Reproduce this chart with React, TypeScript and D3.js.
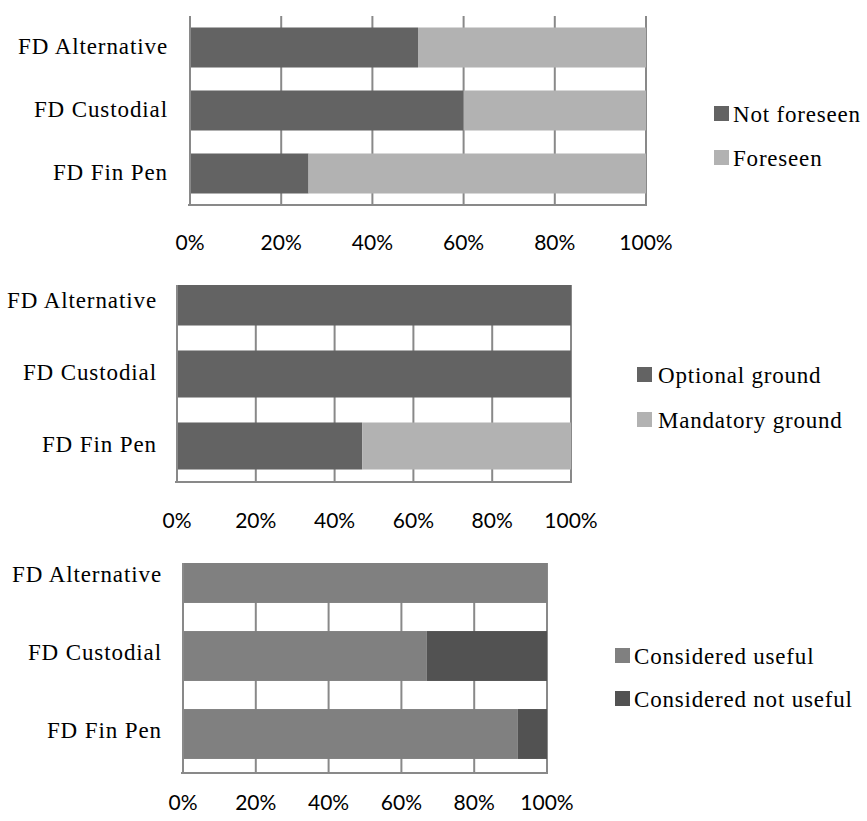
import React from "react";
import * as d3 from "d3";

const categories = ["FD Alternative", "FD Custodial", "FD Fin Pen"];
const tickValues = [0, 20, 40, 60, 80, 100];
const tickLabels = ["0%", "20%", "40%", "60%", "80%", "100%"];

const foreseenSeries = ["Not foreseen", "Foreseen"];
const notForeseen = [50, 60, 26];
const foreseen = [50, 40, 74];

const groundSeries = ["Optional ground", "Mandatory ground"];
const optionalGround = [100, 100, 47];
const mandatoryGround = [0, 0, 53];

const usefulSeries = ["Considered useful", "Considered not useful"];
const consideredUseful = [100, 67, 92];
const consideredNotUseful = [0, 33, 8];

const SERIF = "'Liberation Serif', serif";
const SANS = "Lato, 'Open Sans', sans-serif";
const GRID = "#898989";

type PanelProps = {
  id: string;
  names: string[];
  values: number[][];
  colors: string[];
  x0: number;
  x1: number;
  bandTop: number;
  bandBottom: number;
  clipTop: number;
  padding: number;
  tickY: number;
  labelX: number;
  labelDy: number;
  markerX: number;
  textX: number;
  legendBaselines: number[];
};

function Panel(p: PanelProps) {
  const x = d3.scaleLinear().domain([0, 100]).range([p.x0, p.x1]);
  const y = d3
    .scaleBand<string>()
    .domain(categories)
    .range([p.bandTop, p.bandBottom])
    .paddingInner(p.padding)
    .paddingOuter(p.padding / 2);
  const rows = categories.map((c, i) => {
    const r: Record<string, any> = { cat: c };
    p.names.forEach((n, k) => (r[n] = p.values[k][i]));
    return r;
  });
  const stacked = d3.stack<any>().keys(p.names)(rows);
  const axisY = p.bandBottom;
  const clipId = `clip-${p.id}`;
  return (
    <g>
      <defs>
        <clipPath id={clipId}>
          <rect x={p.x0} y={p.clipTop} width={p.x1 - p.x0 + 2} height={axisY - p.clipTop} />
        </clipPath>
      </defs>
      {tickValues.map((t) => (
        <line key={t} x1={x(t)} x2={x(t)} y1={p.clipTop} y2={axisY} stroke={GRID} strokeWidth={2} />
      ))}
      <g clipPath={`url(#${clipId})`}>
        {stacked.map((s, k) =>
          s.map((d, i) =>
            d[1] - d[0] > 0 ? (
              <rect
                key={`${k}-${i}`}
                x={x(d[0])}
                y={y(categories[i])}
                width={x(d[1]) - x(d[0])}
                height={y.bandwidth()}
                fill={p.colors[k]}
              />
            ) : null
          )
        )}
      </g>
      <line x1={p.x0} x2={p.x0} y1={p.clipTop} y2={axisY} stroke={GRID} strokeWidth={2} />
      <line x1={p.x0 - 2} x2={p.x1 + 1} y1={axisY} y2={axisY} stroke={GRID} strokeWidth={2} />
      {tickValues.map((t, i) => (
        <text key={t} x={x(t)} y={p.tickY} textAnchor="middle" fontFamily={SANS} fontSize={21} fill="#000">
          {tickLabels[i]}
        </text>
      ))}
      {categories.map((c) => (
        <text
          key={c}
          x={p.labelX}
          y={(y(c) as number) + y.bandwidth() / 2 + p.labelDy}
          textAnchor="end"
          fontFamily={SERIF}
          fontSize={23}
          letterSpacing={0.9}
          fill="#000"
        >
          {c}
        </text>
      ))}
      {p.names.map((n, k) => (
        <g key={n}>
          <rect x={p.markerX} y={p.legendBaselines[k] - 16} width={15} height={15} fill={p.colors[k]} />
          <text x={p.textX} y={p.legendBaselines[k]} fontFamily={SERIF} fontSize={23} letterSpacing={0.8} fill="#000">
            {n}
          </text>
        </g>
      ))}
    </g>
  );
}

export default function App() {
  return (
    <div style={{ position: "absolute", left: 0, top: 0 }}>
      <svg width={867} height={821} style={{ display: "block", background: "#fff" }}>
        <Panel
          id="p1"
          names={foreseenSeries}
          values={[notForeseen, foreseen]}
          colors={["#636363", "#b2b2b2"]}
          x0={190}
          x1={646}
          bandTop={16}
          bandBottom={205}
          clipTop={16}
          padding={0.365}
          tickY={250}
          labelX={168}
          labelDy={6}
          markerX={714}
          textX={733}
          legendBaselines={[122, 166]}
        />
        <Panel
          id="p2"
          names={groundSeries}
          values={[optionalGround, mandatoryGround]}
          colors={["#636363", "#b2b2b2"]}
          x0={177}
          x1={571}
          bandTop={266}
          bandBottom={482}
          clipTop={285}
          padding={0.347}
          tickY={528}
          labelX={157}
          labelDy={6}
          markerX={637}
          textX={658}
          legendBaselines={[383, 428]}
        />
        <Panel
          id="p3"
          names={usefulSeries}
          values={[consideredUseful, consideredNotUseful]}
          colors={["#808080", "#525252"]}
          x0={183}
          x1={547}
          bandTop={539}
          bandBottom={773}
          clipTop={563}
          padding={0.36}
          tickY={810}
          labelX={162}
          labelDy={4}
          markerX={615}
          textX={634}
          legendBaselines={[664, 707]}
        />
      </svg>
    </div>
  );
}
